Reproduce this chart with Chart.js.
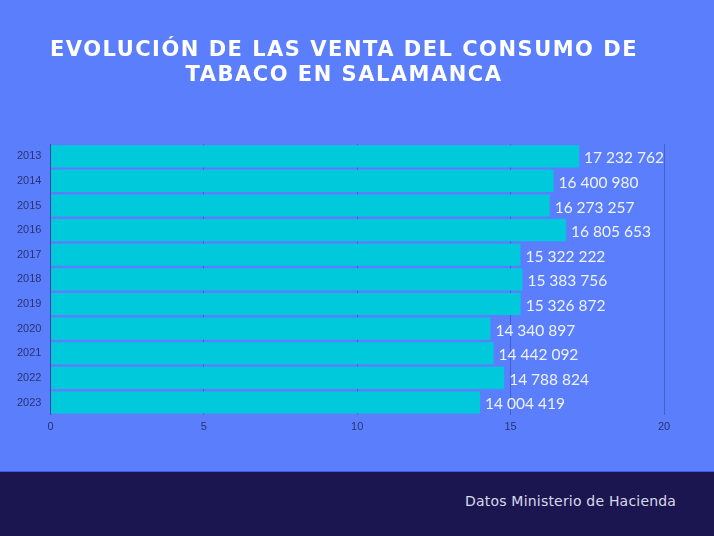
<!DOCTYPE html>
<html>
<head>
<meta charset="utf-8">
<script src="https://cdn.jsdelivr.net/npm/chart.js@4/dist/chart.umd.min.js"></script>
<style>
  html, body { margin: 0; padding: 0; }
  body { width: 714px; height: 536px; background: #5b7ffc; overflow: hidden; font-family: Lato, sans-serif; }
  #wrap { position: relative; width: 714px; height: 471px; }
  #titulo { position: absolute; left: 0; top: 37px; width: 688px; text-align: center; color: #ffffff;
            font-family: 'DejaVu Sans', sans-serif; font-weight: bold; font-size: 21px; line-height: 25px; letter-spacing: 1.5px; }
  #footer { position: absolute; left: 0; top: 471px; width: 714px; height: 65px; background: #1c1650; border-top: 1px solid #3f5cf0; box-sizing: border-box; }
  #footer span { position: absolute; left: 465px; top: 21px; color: #d9d9ea; font-size: 14px; letter-spacing: 0.2px; font-family: 'DejaVu Sans', sans-serif; }
</style>
</head>
<body>
<div id="wrap"><canvas id="ventasChart"></canvas></div>
<div id="titulo">EVOLUCIÓN DE LAS VENTA DEL CONSUMO DE<br>TABACO EN SALAMANCA</div>
<div id="footer"><span>Datos Ministerio de Hacienda</span></div>
<script>
const anios = ['2013', '2014', '2015', '2016', '2017', '2018', '2019', '2020', '2021', '2022', '2023'];
const ventas = [17232762, 16400980, 16273257, 16805653, 15322222, 15383756, 15326872, 14340897, 14442092, 14788824, 14004419];
const ticksX = [0, 5, 10, 15, 20];

// separador de miles con espacio
function formatear(n) {
    return String(n).replace(/\B(?=(\d{3})+(?!\d))/g, ' ');
}

const etiquetasValor = {
    id: 'etiquetasValor',
    afterDatasetsDraw(chart) {
        const ctx = chart.ctx;
        const meta = chart.getDatasetMeta(0);
        ctx.save();
        ctx.fillStyle = '#eef2fb';
        ctx.font = '15.5px Lato, sans-serif';
        ctx.textBaseline = 'middle';
        ctx.textAlign = 'left';
        meta.data.forEach(function (bar, i) {
            ctx.fillText(formatear(ventas[i]), bar.x + 5, bar.y + 2);
        });
        ctx.restore();
    }
};

document.addEventListener('DOMContentLoaded', function () {
    const ctx = document.getElementById('ventasChart').getContext('2d');

    new Chart(ctx, {
        type: 'bar',
        data: {
            labels: anios,
            datasets: [{
                data: ventas.map(v => v / 1000000),
                backgroundColor: '#00c9dc',
                borderWidth: 0,
                categoryPercentage: 0.9,
                barPercentage: 1.0
            }]
        },
        options: {
            indexAxis: 'y',
            responsive: true,
            maintainAspectRatio: false,
            animation: false,
            layout: { padding: { top: 144, left: 16, right: 50, bottom: 31 } },
            plugins: {
                legend: { display: false },
                tooltip: { enabled: false },
                title: { display: false }
            },
            scales: {
                x: {
                    min: 0,
                    max: 20,
                    afterBuildTicks: function (axis) {
                        axis.ticks = ticksX.map(v => ({ value: v }));
                    },
                    grid: { color: 'rgba(50, 70, 170, 0.55)', drawTicks: false, lineWidth: 1 },
                    border: { display: false },
                    ticks: { color: '#2b3270', font: { size: 11 }, padding: 6 }
                },
                y: {
                    grid: { display: false },
                    border: { display: true, color: '#3a44a0', width: 1 },
                    ticks: { color: '#2b3270', font: { size: 11 }, padding: 1 }
                }
            }
        },
        plugins: [etiquetasValor]
    });
});
</script>
</body>
</html>
